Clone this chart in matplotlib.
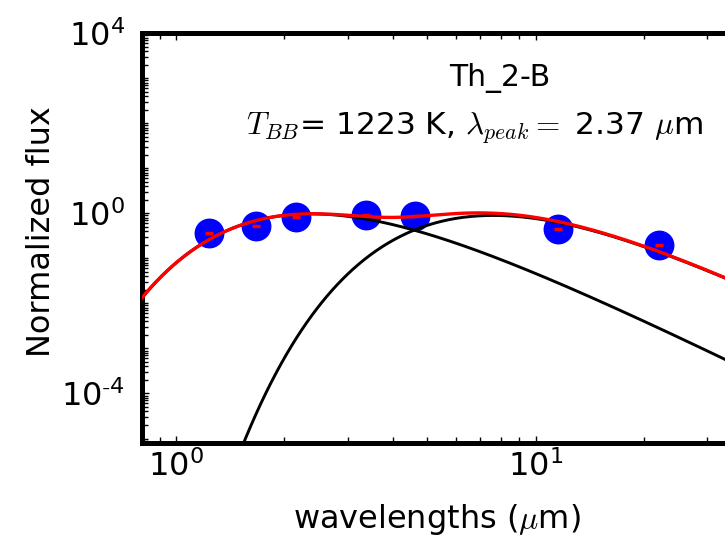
import matplotlib

matplotlib.use("Agg")
import matplotlib.pyplot as plt
import numpy as np
from matplotlib.ticker import LogLocator, NullFormatter

plt.rcParams.update({"font.family": "DejaVu Sans", "mathtext.fontset": "cm"})

# Photometry (2MASS J, H, K + WISE W1-W4), normalized
wavelengths = [1.235, 1.662, 2.159, 3.368, 4.618, 11.56, 22.09]
flux = [0.36, 0.52, 0.84, 0.93, 0.87, 0.44, 0.20]

# Two blackbody components of the fit
T_hot = 1223.0
T_cold = 380.0
amp_hot = 0.975
amp_cold = 0.90

xticks = [1, 10]
xtick_labels = [r"$\mathdefault{10^{0}}$", r"$\mathdefault{10^{1}}$"]
yticks = [1e-4, 1, 1e4]
ytick_labels = [
    r"$\mathdefault{10^{\text{-}4}}$",
    r"$\mathdefault{10^{0}}$",
    r"$\mathdefault{10^{4}}$",
]


def planck_norm(lam, T):
    # B_lambda scaled to 1 at its Wien peak
    c2 = 14387.77
    lam_pk = 2897.77 / T
    b = lam**-5 / np.expm1(c2 / (lam * T))
    b_pk = lam_pk**-5 / np.expm1(c2 / (lam_pk * T))
    return b / b_pk


lam = np.logspace(np.log10(0.8), np.log10(40), 600)
hot = amp_hot * planck_norm(lam, T_hot)
cold = amp_cold * planck_norm(lam, T_cold)

fig = plt.figure(figsize=(7.25, 5.36), dpi=100)
ax = fig.add_axes([0.1952, 0.1735, 0.8418, 0.7644])

ax.plot(wavelengths, flux, "o", color="blue", markersize=20.5, zorder=2)
ax.plot(lam, hot, color="black", lw=2.1, zorder=3)
ax.plot(lam, cold, color="black", lw=2.1, zorder=3)
ax.plot(lam, hot + cold, color="red", lw=2.4, zorder=4)
ax.plot(wavelengths, flux, "_", color="red", markersize=6, mew=2.5, zorder=5)

ax.set_xscale("log")
ax.set_yscale("log")
ax.set_xlim(0.8, 40)
ax.set_ylim(10**-5.1, 1e4)

ax.set_xticks(xticks, xtick_labels)
ax.set_yticks(yticks, ytick_labels)
ax.xaxis.set_minor_locator(LogLocator(base=10, subs=np.arange(2, 10), numticks=20))
ax.yaxis.set_minor_locator(LogLocator(base=10, subs=np.arange(1, 10), numticks=40))
ax.xaxis.set_minor_formatter(NullFormatter())
ax.yaxis.set_minor_formatter(NullFormatter())

ax.tick_params(which="both", direction="in", top=True, right=True, width=1)
ax.tick_params(which="major", length=5)
ax.tick_params(which="minor", length=4)
ax.tick_params(axis="x", labelsize=23, pad=5)
ax.tick_params(axis="y", labelsize=23, pad=12)

for sp in ax.spines.values():
    sp.set_linewidth(3.6)

ax.set_xlabel(r"wavelengths ($\mu$m)", fontsize=23)
ax.set_ylabel("Normalized flux", fontsize=23)
ax.xaxis.set_label_coords(0.484, -0.143)
ax.yaxis.set_label_coords(-0.138, 0.515)

ax.text(0.587, 0.8714, "Th_2-B", ha="center", va="baseline",
        fontsize=21.5, transform=ax.transAxes)
ax.text(0.546, 0.7535, r"$T_{BB}$= 1223 K, $\lambda_{peak} =$ 2.37 $\mu$m",
        ha="center", va="baseline", fontsize=22.5, transform=ax.transAxes)

fig.savefig("out.png", dpi=100)
